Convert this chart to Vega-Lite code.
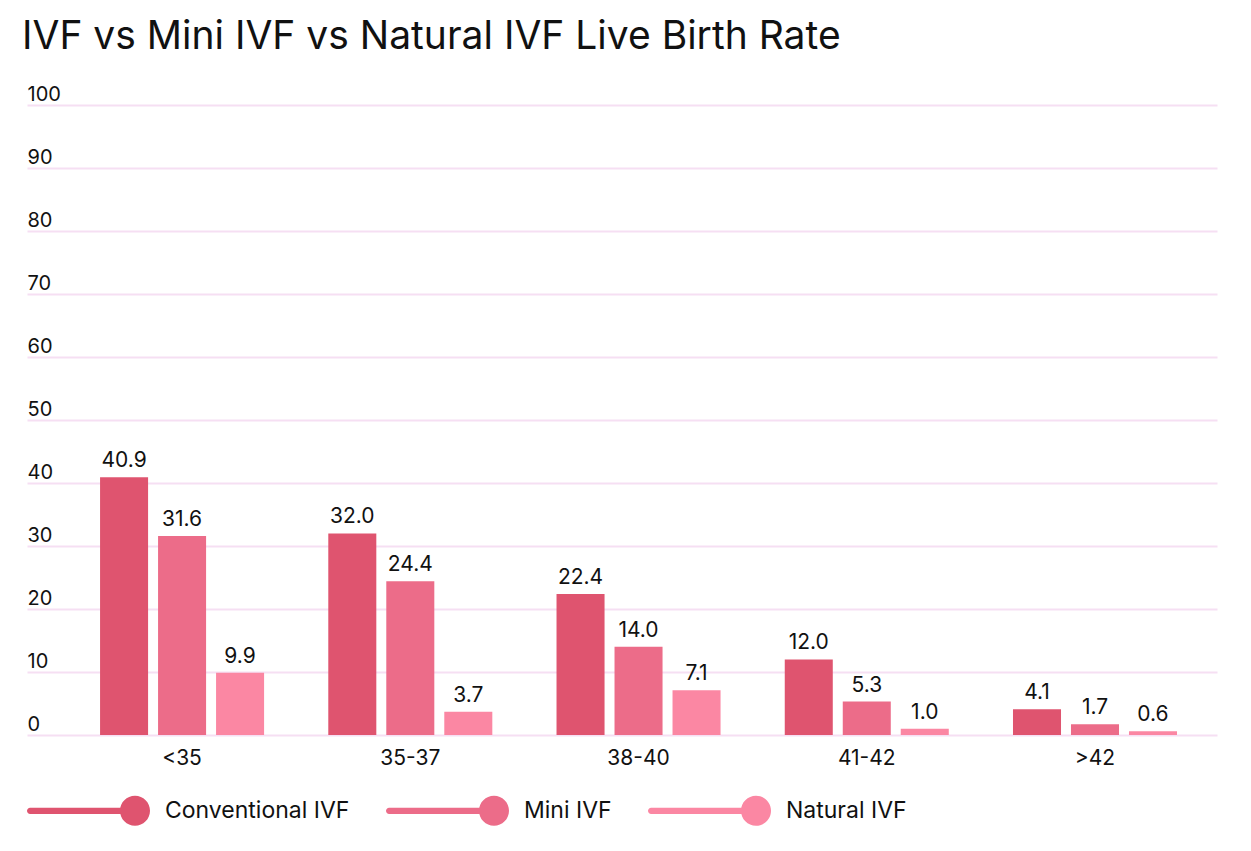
{
  "$schema": "https://vega.github.io/schema/vega-lite/v6.json",
  "autosize": "none",
  "width": 1190,
  "height": 630,
  "padding": {"left": 27, "top": 105, "right": 34, "bottom": 116},
  "background": "white",
  "config": {
    "view": {"stroke": null},
    "font": "Inter",
    "axis": {"labelColor": "#111111", "labelFont": "Inter"},
    "legend": {"labelFont": "Inter"}
  },
  "title": {
    "text": "IVF vs Mini IVF vs Natural IVF Live Birth Rate",
    "anchor": "start",
    "frame": "group",
    "dx": -5,
    "offset": -4,
    "baseline": "alphabetic",
    "fontSize": 39,
    "fontWeight": "normal",
    "color": "#111111"
  },
  "data": {
    "values": [
      {"age": "<35", "type": "Conventional IVF", "rate": 40.9},
      {"age": "<35", "type": "Mini IVF", "rate": 31.6},
      {"age": "<35", "type": "Natural IVF", "rate": 9.9},
      {"age": "35-37", "type": "Conventional IVF", "rate": 32.0},
      {"age": "35-37", "type": "Mini IVF", "rate": 24.4},
      {"age": "35-37", "type": "Natural IVF", "rate": 3.7},
      {"age": "38-40", "type": "Conventional IVF", "rate": 22.4},
      {"age": "38-40", "type": "Mini IVF", "rate": 14.0},
      {"age": "38-40", "type": "Natural IVF", "rate": 7.1},
      {"age": "41-42", "type": "Conventional IVF", "rate": 12.0},
      {"age": "41-42", "type": "Mini IVF", "rate": 5.3},
      {"age": "41-42", "type": "Natural IVF", "rate": 1.0},
      {"age": ">42", "type": "Conventional IVF", "rate": 4.1},
      {"age": ">42", "type": "Mini IVF", "rate": 1.7},
      {"age": ">42", "type": "Natural IVF", "rate": 0.6}
    ]
  },
  "encoding": {
    "x": {
      "field": "age",
      "type": "nominal",
      "sort": null,
      "title": null,
      "scale": {"paddingInner": 0.2, "paddingOuter": 0.207, "align": 0.675},
      "axis": {
        "labelAngle": 0,
        "domain": false,
        "ticks": false,
        "labelPadding": 12,
        "labelFontSize": 21
      }
    },
    "xOffset": {
      "field": "type",
      "type": "nominal",
      "sort": ["Conventional IVF", "Mini IVF", "Natural IVF"],
      "scale": {"paddingInner": 0.172, "paddingOuter": 0.16}
    },
    "y": {
      "field": "rate",
      "type": "quantitative",
      "title": null,
      "scale": {"domain": [0, 100], "nice": false},
      "axis": {
        "values": [0, 10, 20, 30, 40, 50, 60, 70, 80, 90, 100],
        "domain": false,
        "ticks": false,
        "labelAlign": "left",
        "labelBaseline": "alphabetic",
        "labelPadding": 0,
        "labelOffset": -5,
        "labelFontSize": 20,
        "gridColor": "#F6DFF3",
        "gridWidth": 2
      }
    }
  },
  "layer": [
    {
      "mark": {"type": "bar"},
      "encoding": {
        "color": {
          "field": "type",
          "type": "nominal",
          "title": null,
          "scale": {
            "domain": ["Conventional IVF", "Mini IVF", "Natural IVF"],
            "range": ["#DF546F", "#EC6C89", "#FB87A3"]
          },
          "legend": {
            "orient": "none",
            "legendX": 0,
            "legendY": 643,
            "direction": "horizontal",
            "padding": 0,
            "symbolType": "M-0.95,-0.05 L0.6,-0.05 L0.6,0.05 L-0.95,0.05 A0.05,0.05 0 0,1 -0.95,-0.05 Z M0.968,0 A0.24,0.24 0 1,1 0.488,0 A0.24,0.24 0 1,1 0.968,0 Z",
            "symbolSize": 15625,
            "symbolStrokeWidth": 0,
            "symbolOpacity": 1,
            "labelFontSize": 23,
            "labelLimit": 400,
            "labelColor": "#111111",
            "labelOffset": 13,
            "columnPadding": 36
          }
        }
      }
    },
    {
      "mark": {"type": "text", "baseline": "alphabetic", "dy": -10, "fontSize": 21, "color": "#111111"},
      "encoding": {
        "text": {"field": "rate", "type": "quantitative", "format": ".1f"}
      }
    }
  ]
}
